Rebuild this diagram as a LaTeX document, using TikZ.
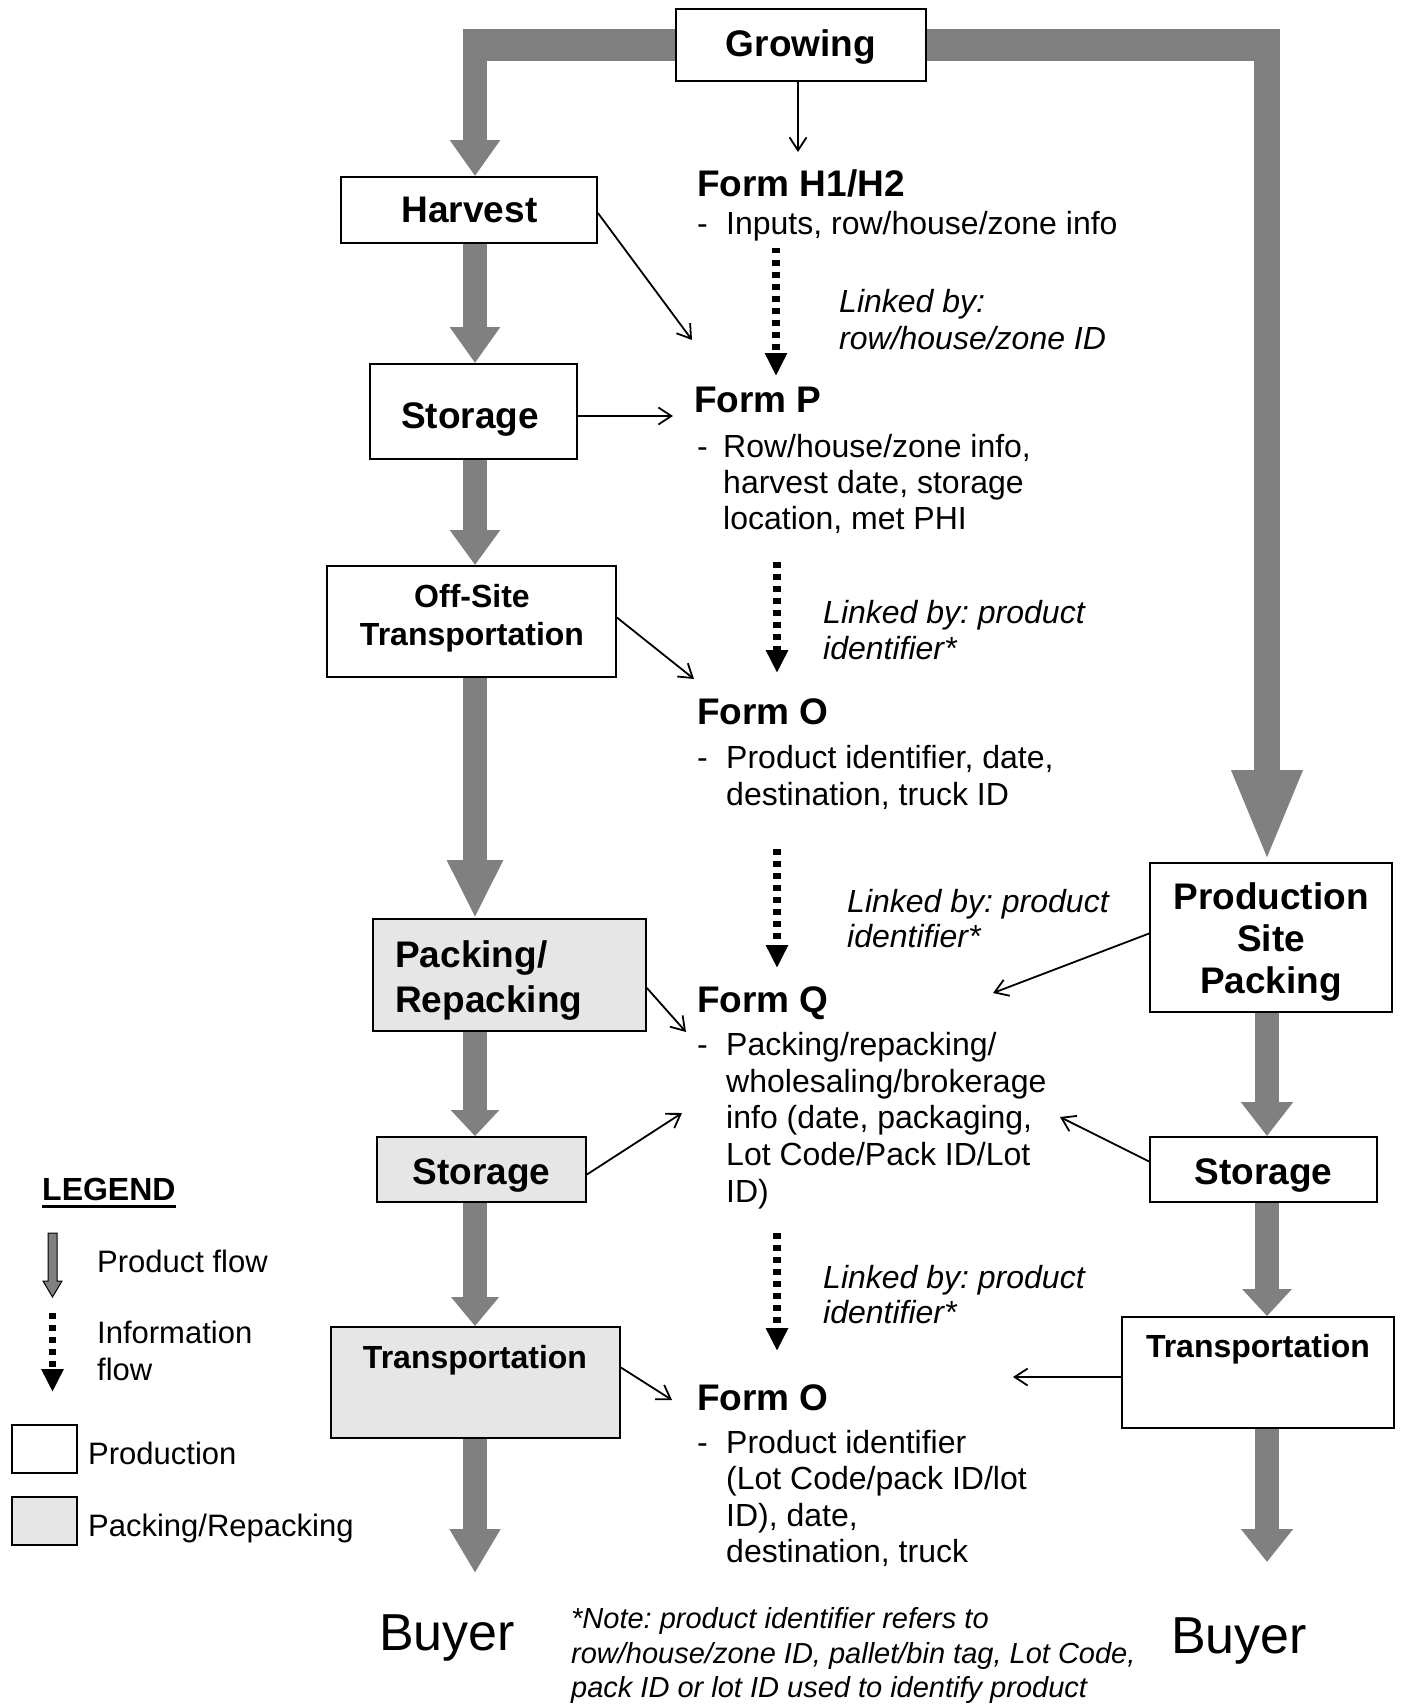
\documentclass[tikz,border=0pt]{standalone}
\usepackage{fontspec}
\setmainfont{Liberation Sans}
\usetikzlibrary{arrows.meta,backgrounds}
\definecolor{flowgray}{RGB}{128,128,128}
\definecolor{packfill}{RGB}{230,230,230}
\frenchspacing
\begin{document}
\begin{tikzpicture}[x=1pt,y=-1pt,
  box/.style={draw=black,line width=1.8pt,fill=white,inner sep=0pt},
  packbox/.style={box,fill=packfill},
  boxlbl/.style={font=\fontsize{37}{44}\selectfont\bfseries,inner sep=0pt,anchor=base},
  boxlblsm/.style={font=\fontsize{32}{38}\selectfont\bfseries,inner sep=0pt,anchor=base},
  formhead/.style={font=\fontsize{37}{44}\selectfont\bfseries,inner sep=0pt,anchor=base west},
  detail/.style={font=\fontsize{32}{38}\selectfont,inner sep=0pt,anchor=base west},
  linkby/.style={font=\fontsize{32}{38}\selectfont\itshape,inner sep=0pt,anchor=base west},
  notetext/.style={font=\fontsize{29}{34}\selectfont\itshape,inner sep=0pt,anchor=base west},
  buyer/.style={font=\fontsize{52}{60}\selectfont,inner sep=0pt,anchor=base},
  legtext/.style={font=\fontsize{31}{37}\selectfont,inner sep=0pt,anchor=base west},
  pflow/.style={draw=flowgray,line width=24pt},
  hbar/.style={draw=flowgray,line width=32pt},
  thinarrow/.style={draw=black,line width=1.8pt,-{Straight Barb[length=13pt,width=17pt]}},
  infoflow/.style={draw=black,line width=7.5pt,dash pattern=on 5.5pt off 6.5pt,-{Triangle[length=23pt,width=21pt]}},
]
\useasboundingbox (0,0) rectangle (1400,1704);

% column guides
\coordinate (colL) at (475,0);
\coordinate (colR) at (1267,0);

% ---------- boxes ----------
\node[box,minimum width=250pt,minimum height=72pt] (growing) at (801,45) {};
\node[box,minimum width=256pt,minimum height=66pt] (harvest) at (469,210) {};
\node[box,minimum width=207pt,minimum height=95pt] (storage1) at (473.5,411.5) {};
\node[box,minimum width=289pt,minimum height=111pt] (offsite) at (471.5,621.5) {};
\node[packbox,minimum width=273pt,minimum height=112pt] (packing) at (509.5,975) {};
\node[packbox,minimum width=209pt,minimum height=65pt] (storage2) at (481.5,1169.5) {};
\node[packbox,minimum width=289pt,minimum height=111pt] (transL) at (475.5,1382.5) {};
\node[box,minimum width=242pt,minimum height=149pt] (psp) at (1271,937.5) {};
\node[box,minimum width=227pt,minimum height=65pt] (storageR) at (1263.5,1169.5) {};
\node[box,minimum width=272pt,minimum height=111pt] (transR) at (1258,1372.5) {};

% box labels
\node[boxlbl] (tGrowing) at (801,57) {Growing};
\node[boxlbl] (tHarvest) at (469.5,223) {Harvest};
\node[boxlbl] (tStorage1) at (470,428) {Storage};
\node[boxlblsm] (tOff1) at (472,607) {Off-Site};
\node[boxlblsm] (tOff2) at (472,645) {Transportation};
\node[boxlbl,anchor=base west] (tPack1) at (395,967) {Packing/};
\node[boxlbl,anchor=base west] (tPack2) at (395,1012) {Repacking};
\node[boxlbl] (tStorage2) at (481.5,1184) {Storage};
\node[boxlblsm] (tTransL) at (475,1368) {Transportation};
\node[boxlbl] (tPsp1) at (1271,909) {Production};
\node[boxlbl] (tPsp2) at (1271,951) {Site};
\node[boxlbl] (tPsp3) at (1271,993) {Packing};
\node[boxlbl] (tStorageR) at (1263.5,1184) {Storage};
\node[boxlblsm] (tTransR) at (1258,1357) {Transportation};

% buyers
\node[buyer] (buyerL) at (447,1650) {Buyer};
\node[buyer] (buyerR) at (1239,1653) {Buyer};
\coordinate (tipBL) at (475,1573);
\coordinate (tipBR) at (1267,1562);

% ---------- product flow (thick gray) ----------
\begin{pgfonlayer}{background}
\draw[hbar] (growing.west) -- ([xshift=-12pt]growing.west -| colL);
\draw[pflow,-{Triangle[length=36pt,width=48pt]}] ([yshift=16pt]growing.west -| colL) -- (harvest.north -| colL);
\draw[hbar] (growing.east) -- ([xshift=13pt]growing.east -| colR);
\draw[pflow,line width=26pt,-{Triangle[length=92pt,width=64pt]}] ([yshift=16pt]growing.east -| colR) -- (psp.north -| colR);
\end{pgfonlayer}
\draw[pflow,-{Triangle[length=36pt,width=48pt]}] (harvest.south -| colL) -- (storage1.north -| colL);
\draw[pflow,-{Triangle[length=35pt,width=48pt]}] (storage1.south -| colL) -- (offsite.north -| colL);
\draw[pflow,-{Triangle[length=58pt,width=52pt]}] (offsite.south -| colL) -- (packing.north -| colL);
\draw[pflow,-{Triangle[length=26pt,width=47pt]}] (packing.south -| colL) -- (storage2.north -| colL);
\draw[pflow,-{Triangle[length=29pt,width=46pt]}] (storage2.south -| colL) -- (transL.north -| colL);
\draw[pflow,-{Triangle[length=44pt,width=48pt]}] (transL.south -| colL) -- (tipBL);
\draw[pflow,-{Triangle[length=34pt,width=50pt]}] (psp.south -| colR) -- (storageR.north -| colR);
\draw[pflow,-{Triangle[length=27pt,width=48pt]}] (storageR.south -| colR) -- (transR.north -| colR);
\draw[pflow,-{Triangle[length=33pt,width=50pt]}] (transR.south -| colR) -- (tipBR);

% ---------- forms ----------
\node[formhead] (fH) at (697,197) {Form H1/H2};
\node[detail] (fHd) at (697,235) {-};
\node[detail] (fH1) at (726,235) {Inputs, row/house/zone info};

\node[linkby] (lk1a) at (839,312) {Linked by:};
\node[linkby] (lk1b) at (839,349) {row/house/zone ID};

\node[formhead] (fP) at (694,412) {Form P};
\node[detail] (fPd) at (697,457) {-};
\node[detail] (fP1) at (723,457) {Row/house/zone info,};
\node[detail] (fP2) at (723,493) {harvest date, storage};
\node[detail] (fP3) at (723,529) {location, met PHI};

\node[linkby] (lk2a) at (823,623) {Linked by: product};
\node[linkby] (lk2b) at (823,659) {identifier*};

\node[formhead] (fO) at (697,724) {Form O};
\node[detail] (fOd) at (697,768) {-};
\node[detail] (fO1) at (726,768) {Product identifier, date,};
\node[detail] (fO2) at (726,805) {destination, truck ID};

\node[linkby] (lk3a) at (847,912) {Linked by: product};
\node[linkby] (lk3b) at (847,947) {identifier*};

\node[formhead] (fQ) at (697,1012) {Form Q};
\node[detail] (fQd) at (697,1055) {-};
\node[detail] (fQ1) at (726,1055) {Packing/repacking/};
\node[detail] (fQ2) at (726,1092) {wholesaling/brokerage};
\node[detail] (fQ3) at (726,1128) {info (date, packaging,};
\node[detail] (fQ4) at (726,1165) {Lot Code/Pack ID/Lot};
\node[detail] (fQ5) at (726,1202) {ID)};

\node[linkby] (lk4a) at (823,1288) {Linked by: product};
\node[linkby] (lk4b) at (823,1323) {identifier*};

\node[formhead] (fO2h) at (697,1410) {Form O};
\node[detail] (fO2d) at (697,1453) {-};
\node[detail] (fO21) at (726,1453) {Product identifier};
\node[detail] (fO22) at (726,1489) {(Lot Code/pack ID/lot};
\node[detail] (fO23) at (726,1526) {ID), date,};
\node[detail] (fO24) at (726,1562) {destination, truck};

\node[notetext] (n1) at (571,1628) {*Note: product identifier refers to};
\node[notetext] (n2) at (571,1663) {row/house/zone ID, pallet/bin tag, Lot Code,};
\node[notetext] (n3) at (571,1697) {pack ID or lot ID used to identify product};

% ---------- information flow (dotted) ----------
\coordinate (d1s) at (776,248);  \coordinate (d1e) at (776,376);
\coordinate (d2s) at (777,562);  \coordinate (d2e) at (777,673);
\coordinate (d3s) at (777,849);  \coordinate (d3e) at (777,968);
\coordinate (d4s) at (777,1233); \coordinate (d4e) at (777,1351);
\draw[infoflow] (d1s) -- (d1e);
\draw[infoflow] (d2s) -- (d2e);
\draw[infoflow] (d3s) -- (d3e);
\draw[infoflow] (d4s) -- (d4e);

% ---------- thin connectors ----------
\coordinate (a1e) at (798,152);
\coordinate (a2e) at (692,340);
\coordinate (a3e) at (673,416);
\coordinate (a4e) at (694,679);
\coordinate (a5e) at (686,1032);
\coordinate (a6e) at (682,1113);
\coordinate (a7e) at (672,1400);
\coordinate (a8e) at (993,993);
\coordinate (a9e) at (1060,1117);
\coordinate (a10e) at (1013,1377);
\draw[thinarrow] (growing.south -| a1e) -- (a1e);
\draw[thinarrow] ([yshift=-3pt]harvest.east) -- (a2e);
\draw[thinarrow] (storage1.east |- a3e) -- (a3e);
\draw[thinarrow] ([yshift=4pt]offsite.east) -- (a4e);
\draw[thinarrow] ([yshift=-13pt]packing.east) -- (a5e);
\draw[thinarrow] ([yshift=-5pt]storage2.east) -- (a6e);
\draw[thinarrow] ([yshift=15pt]transL.east) -- (a7e);
\draw[thinarrow] ([yshift=4pt]psp.west) -- (a8e);
\draw[thinarrow] ([yshift=8pt]storageR.west) -- (a9e);
\draw[thinarrow] (transR.west |- a10e) -- (a10e);

% ---------- legend ----------
\node[font=\fontsize{32}{38}\selectfont\bfseries,inner sep=0pt,anchor=base west] (leg) at (42,1200) {LEGEND};
\draw[line width=3pt] ([yshift=-6pt]leg.base west) -- ([yshift=-6pt]leg.base east);
\draw[draw=black,line width=1pt,fill=flowgray] (48,1233) -- (57,1233) -- (57,1281) -- (62,1281) -- (52.5,1297) -- (43,1281) -- (48,1281) -- cycle;
\node[legtext] (lgP) at (97,1272) {Product flow};
\coordinate (lgis) at (52.5,1313); \coordinate (lgie) at (52.5,1392);
\draw[infoflow] (lgis) -- (lgie);
\node[legtext] (lgI1) at (97,1343) {Information};
\node[legtext] (lgI2) at (97,1380) {flow};
\node[box,minimum width=65pt,minimum height=48pt] (lgBox1) at (44.5,1449) {};
\node[legtext] (lgB1) at (88,1464) {Production};
\node[packbox,minimum width=65pt,minimum height=48pt] (lgBox2) at (44.5,1521) {};
\node[legtext] (lgB2) at (88,1536) {Packing/Repacking};
\end{tikzpicture}
\end{document}
